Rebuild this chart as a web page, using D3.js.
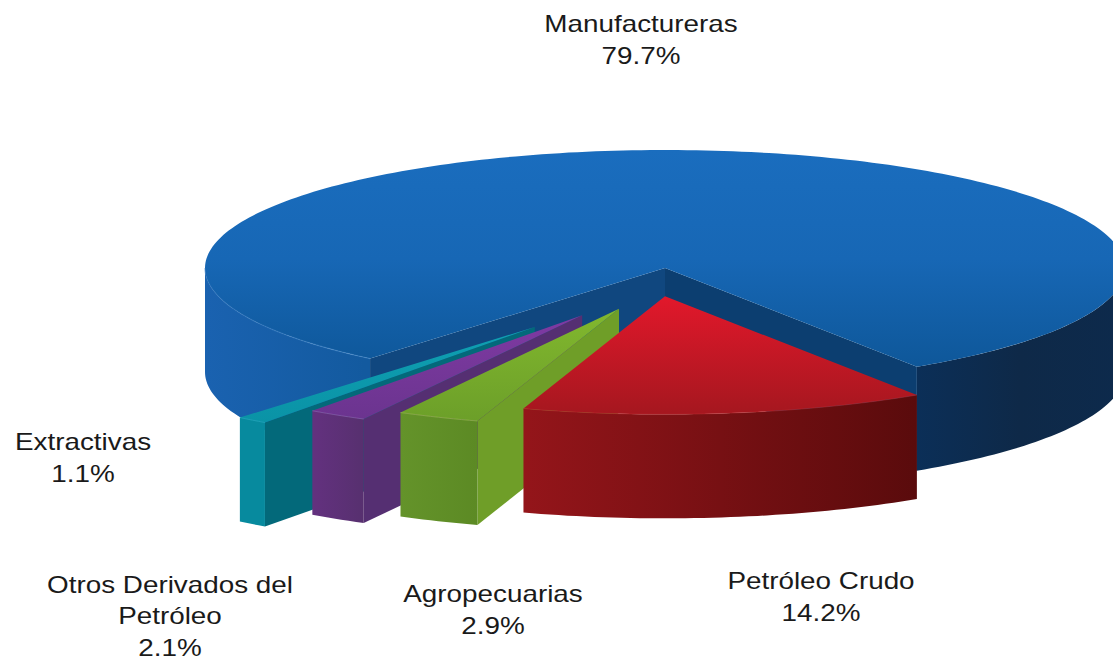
<!DOCTYPE html>
<html><head><meta charset="utf-8">
<style>html,body{margin:0;padding:0;background:#fff}svg{display:block}text{font-family:"Liberation Sans",Arial,sans-serif;fill:#1a1a1a}</style>
<script src="https://cdn.jsdelivr.net/npm/d3@7"></script></head><body>
<script>
const categories=["Petróleo Crudo","Agropecuarias","Otros Derivados del Petróleo","Extractivas","Manufactureras"];
const values=[14.2,2.9,2.1,1.1,79.7];
const labelLines=[["Petróleo Crudo","14.2%"],["Agropecuarias","2.9%"],["Otros Derivados del","Petróleo","2.1%"],["Extractivas","1.1%"],["Manufactureras","79.7%"]];
const labelCenterX=[821,493,170,83,641];
const labelFirstBaseline=[589,602,592.5,450,32];
// explosion of each slice, as a fraction of the radius
const explodeX=[0,-0.1,-0.18,-0.283,0];
const explodeY=[0.24,0.345,0.40,0.50,0];
const W=1113,H=661,cx=665,cy=268,rx=460,ry=118,depth=104;
const startDeg=146.8;
const styles=[
 {top:["#e2182b","#a5171f"],out:["#94151a","#5a0b0c"],wall:"#7a1012",edge:"#c8383c",edgeOp:0.35},
 {top:["#82b82e","#6c9f29"],out:["#64932a","#5c8a24"],wall:"#6f9e28",edge:"#9cc050",edgeOp:0.6},
 {top:["#7f3aa3","#6b348f"],out:["#63317f","#57306f"],wall:"#552f72",edge:"#9a5fb0",edgeOp:0.6},
 {top:["#0fa0b2","#0a93a6"],out:["#078a9e","#078a9e"],wall:"#03697a",edge:"#2ab0c0",edgeOp:0.6}
];
const svg=d3.select("body").append("svg").attr("width",W).attr("height",H);
const defs=svg.append("defs");
const X=d3.scaleLinear().domain([-1,1]).range([cx-rx,cx+rx]);
const Y=d3.scaleLinear().domain([-1,1]).range([cy-ry,cy+ry]);
const pie=d3.pie().sort(null).startAngle(startDeg*Math.PI/180).endAngle((startDeg+360)*Math.PI/180);
const arcs=pie(values);
const linePath=d3.line();
const rimPts=(a0,a1,ox,oy,dz)=>{
  const n=Math.max(2,Math.ceil(Math.abs(a1-a0)/0.02));
  return d3.range(n+1).map(i=>{const a=a0+(a1-a0)*i/n-Math.PI/2;
    return [X(Math.cos(a)+ox),Y(Math.sin(a)+oy)+dz];});
};
function grad(id,c,x1,y1,x2,y2){
  const g=defs.append("linearGradient").attr("id",id).attr("gradientUnits","userSpaceOnUse")
    .attr("x1",x1).attr("y1",y1).attr("x2",x2).attr("y2",y2);
  c.forEach((col,i)=>g.append("stop").attr("offset",i/(c.length-1)).attr("stop-color",col));
  return `url(#${id})`;
}
const face=(pts,fill)=>svg.append("path").attr("d",linePath(pts)+"Z").attr("fill",fill);
// main slice
const m=arcs[4],mOx=explodeX[4],mOy=explodeY[4];
const apex=[X(mOx),Y(mOy)];
const lowerApex=[apex[0],apex[1]+depth];
const leftRim=rimPts(m.startAngle,1.5*Math.PI,0,0,0);
face(leftRim.concat(rimPts(1.5*Math.PI,m.startAngle,0,0,depth)),
  grad("mainL",["#1a62b0","#135a9f"],cx-rx,0,cx-300,0));
const rightRim=rimPts(2.5*Math.PI,m.endAngle,0,0,0);
face(rightRim.concat(rimPts(m.endAngle,2.5*Math.PI,0,0,depth)),
  grad("mainR",["#0b2f58","#0e2948","#0d2a4c"],cx+250,0,cx+460,0));
const cornerL=rimPts(m.startAngle,m.startAngle,0,0,0)[0];
const cornerR=rimPts(m.endAngle,m.endAngle,0,0,0)[0];
face([apex,cornerL,[cornerL[0],cornerL[1]+depth],lowerApex],"#10477f");
face([apex,cornerR,[cornerR[0],cornerR[1]+depth],lowerApex],"#0c3e70");
face([apex].concat(rimPts(m.startAngle,m.endAngle,0,0,0)),
  grad("mainT",["#1a6dbe","#1767b5","#0e5799"],0,cy-ry,0,cy+ry*0.85));
const rimFade=grad("rimFade",["#4a8fd2","#2f74bd"],cornerL[0],0,cx-rx,0);
svg.append("path").attr("d",linePath(leftRim)).attr("fill","none").attr("stroke",rimFade).attr("stroke-width",1.2).attr("stroke-opacity",0.5);
// exploded slices, back to front
[3,2,1,0].forEach(i=>{
  const d=arcs[i],s=styles[i],ox=explodeX[i],oy=explodeY[i];
  const p=[X(ox),Y(oy)];
  const rim=rimPts(d.startAngle,d.endAngle,ox,oy,0);
  const first=rim[0],last=rim[rim.length-1];
  if(i>0) face([p,first,[first[0],first[1]+depth],[p[0],p[1]+depth]],s.wall);
  face(rim.concat(rimPts(d.endAngle,d.startAngle,ox,oy,depth)),
    grad("out"+i,s.out,last[0],0,first[0],0));
  face([p].concat(rim),grad("top"+i,s.top,0,p[1],0,d3.max(rim,q=>q[1])));
  svg.append("path").attr("d",linePath(rim)).attr("fill","none").attr("stroke",s.edge).attr("stroke-width",1).attr("stroke-opacity",s.edgeOp);
});
// labels
const fontSize=24,lineGap=31.5,stretch=1.16;
categories.forEach((c,i)=>{
  labelLines[i].forEach((t,j)=>{
    svg.append("text").attr("text-anchor","middle").attr("font-size",fontSize)
      .attr("transform",`translate(${labelCenterX[i]},${labelFirstBaseline[i]+j*lineGap}) scale(${stretch},1)`)
      .text(t);
  });
});
</script></body></html>
